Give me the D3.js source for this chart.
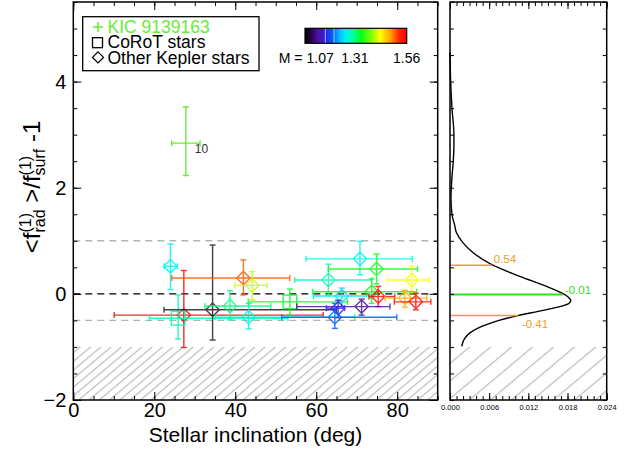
<!DOCTYPE html>
<html>
<head>
<meta charset="utf-8">
<script src="https://cdn.jsdelivr.net/npm/d3@7"></script>
<style>
body { margin: 0; background: #fff; }
svg { font-family: "Liberation Sans", Arial, Helvetica, sans-serif; }
</style>
</head>
<body>
<svg id="chart" width="629" height="460"></svg>
<script>
// stars (Kepler diamonds, CoRoT squares)
const star_incl     = [24.0, 27.3, 25.9, 34.4, 38.7, 42.0, 44.2, 43.3, 53.5, 63.0, 70.8, 74.9, 83.6, 66.3, 73.7, 75.3, 81.9, 84.6, 71.2, 65.4, 64.6];
const star_incl_lo  = [22.4, 10.1, 18.8, 22.4, 32.5, 24.3, 39.9, 35.0, 43.2, 54.7, 57.5, 63.0, 77.6, 59.3, 59.1, 73.0, 77.0, 79.3, 55.2, 62.5, 51.5];
const star_incl_hi  = [25.7, 61.7, 53.0, 65.0, 48.8, 53.5, 47.9, 69.5, 67.7, 73.7, 83.7, 85.0, 87.9, 73.3, 84.8, 79.4, 87.3, 88.3, 78.2, 67.0, 79.9];
const star_ratio    = [0.52, -0.40, -0.46, -0.30, -0.23, 0.30, 0.16, -0.44, -0.15, 0.26, 0.66, 0.47, 0.26, -0.04, 0.04, -0.05, -0.08, -0.15, -0.24, -0.27, -0.44];
const star_ratio_lo = [0.08, -1.01, -0.85, -0.87, -0.49, -0.02, -0.11, -0.66, -0.40, -0.02, 0.36, 0.19, 0.02, -0.24, -0.18, -0.24, -0.25, -0.30, -0.40, -0.45, -0.65];
const star_ratio_hi = [0.94, 0.44, -0.02, 0.92, 0.06, 0.64, 0.42, -0.18, 0.09, 0.56, 0.99, 0.75, 0.52, 0.11, 0.28, 0.14, 0.07, 0.01, -0.10, -0.12, -0.18];
const star_mass     = [1.266, 1.56, 1.29, 1.07, 1.31, 1.506, 1.413, 1.276, 1.34, 1.29, 1.27, 1.344, 1.433, 1.256, 1.345, 1.545, 1.472, 1.55, 1.134, 1.163, 1.202];
const star_kind     = ['kepler', 'kepler', 'corot', 'kepler', 'kepler', 'kepler', 'kepler', 'kepler', 'corot', 'kepler', 'kepler',
                       'kepler', 'kepler', 'kepler', 'kepler', 'kepler', 'kepler', 'kepler', 'kepler', 'kepler', 'kepler'];

// KIC 9139163
const kic_incl = [27.8], kic_incl_lo = [24.3], kic_incl_hi = [31.3];
const kic_ratio = [2.84], kic_ratio_lo = [2.23], kic_ratio_hi = [3.52];
const kic_label = ['10'];

// probability density of the ratio (right panel)
const pdf_ratio = [4.55, 4.0, 3.5, 3.0, 2.8, 2.5, 2.2, 1.8, 1.5, 1.3, 1.15, 0.96, 0.77, 0.55, 0.33, 0.14, 0.0, -0.05, -0.12, -0.18, -0.25, -0.33, -0.41, -0.50, -0.58, -0.65, -0.74, -0.85, -0.99];
const pdf_dens  = [0.0, 0.0001, 0.0003, 0.0006, 0.0006, 0.0005, 0.0003, 0.00015, 0.0003, 0.0007, 0.0010, 0.0020, 0.0036, 0.0064, 0.0107, 0.0148, 0.0174, 0.0180, 0.0185, 0.0182, 0.0165, 0.0135, 0.0104, 0.0075, 0.0056, 0.0042, 0.0030, 0.0022, 0.0018];
const level_ratio = [0.54, -0.01, -0.41];
const level_dens  = [0.0064, 0.0173, 0.0104];
const level_text  = ['0.54', '-0.01', '-0.41'];

// mass colour bar
const mass_min = 1.07, mass_max = 1.56;
const cbar_ticks = [1.07, 1.31, 1.56];
const cbar_marks = [1.168, 1.21];
const cmap_pos = [0, 0.05, 0.12, 0.2, 0.27, 0.35, 0.4, 0.47, 0.55, 0.65, 0.74, 0.84, 0.93, 1.0];
const cmap_col = ['#000000', '#200040', '#50109a', '#3020e0', '#0060ff', '#00c8ff', '#00f0f0', '#00ffa0', '#00ff20', '#80ff00', '#ffff00', '#ffa000', '#ff2000', '#ff0000'];

const x_ticks = [0, 20, 40, 60, 80];
const y_ticks = [-2, 0, 2, 4];
const dens_ticks = [0, 0.006, 0.012, 0.018, 0.024];

const svg = d3.select('#chart');
const defs = svg.append('defs');

const main = { left: 73.3, right: 437.7, top: 2, bottom: 400 };
const side = { left: 450, right: 606.7, top: 2, bottom: 400 };

const x = d3.scaleLinear().domain([0, 90]).range([main.left, main.right]);
const y = d3.scaleLinear().domain([-2, 5.5]).range([main.bottom, main.top]);
const xd = d3.scaleLinear().domain([0, 0.024]).range([side.left, side.right]);
const mass_color = d3.scaleLinear()
    .domain(cmap_pos.map(t => mass_min + t * (mass_max - mass_min)))
    .range(cmap_col)
    .clamp(true);

// hatch patterns
function make_hatch(id, gap) {
    let p = defs.append('pattern')
        .attr('id', id)
        .attr('patternUnits', 'userSpaceOnUse')
        .attr('width', gap)
        .attr('height', 40)
        .attr('patternTransform', 'rotate(50)');
    p.append('line')
        .attr('x1', 0.6).attr('x2', 0.6)
        .attr('y1', 0).attr('y2', 40)
        .attr('stroke', '#bbbbbb')
        .attr('stroke-width', 1.2);
}
make_hatch('hatch_main', 6.6);
make_hatch('hatch_side', 13.5);

defs.append('clipPath').attr('id', 'clip_main')
    .append('rect')
    .attr('x', main.left).attr('y', main.top)
    .attr('width', main.right - main.left).attr('height', main.bottom - main.top);

// ---------------- main panel ----------------
svg.append('rect')
    .attr('x', main.left)
    .attr('y', y(-1))
    .attr('width', main.right - main.left)
    .attr('height', y(-2) - y(-1))
    .attr('fill', 'url(#hatch_main)');

const plot = svg.append('g').attr('clip-path', 'url(#clip_main)');

[1, -0.5].forEach(v => {
    plot.append('line')
        .attr('x1', main.left).attr('x2', main.right)
        .attr('y1', y(v)).attr('y2', y(v))
        .attr('stroke', '#b4b4b4')
        .attr('stroke-width', 1.4)
        .attr('stroke-dasharray', '7,5');
});
plot.append('line')
    .attr('x1', main.left).attr('x2', main.right)
    .attr('y1', y(0)).attr('y2', y(0))
    .attr('stroke', 'black')
    .attr('stroke-width', 1.4)
    .attr('stroke-dasharray', '7,5');

function draw_point(g, xi, xlo, xhi, yi, ylo, yhi, color, kind) {
    let cap = 3;
    let px = x(xi), py = y(yi);
    let segs = [
        [x(xlo), py, x(xhi), py],
        [x(xlo), py - cap, x(xlo), py + cap],
        [x(xhi), py - cap, x(xhi), py + cap],
        [px, y(ylo), px, y(yhi)],
        [px - cap, y(ylo), px + cap, y(ylo)],
        [px - cap, y(yhi), px + cap, y(yhi)]
    ];
    segs.forEach(s => {
        g.append('line')
            .attr('x1', s[0]).attr('y1', s[1])
            .attr('x2', s[2]).attr('y2', s[3])
            .attr('stroke', color)
            .attr('stroke-width', 1.4);
    });
    if (kind == 'kepler') {
        let r = 6.7;
        g.append('path')
            .attr('d', `M${px},${py - r}L${px + r},${py}L${px},${py + r}L${px - r},${py}Z`)
            .attr('fill', 'none')
            .attr('stroke', color)
            .attr('stroke-width', 1.4);
    } else if (kind == 'corot') {
        let r = 6.8;
        g.append('rect')
            .attr('x', px - r).attr('y', py - r)
            .attr('width', 2 * r).attr('height', 2 * r)
            .attr('fill', 'none')
            .attr('stroke', color)
            .attr('stroke-width', 1.4);
    }
}

star_incl.forEach((d, i) => {
    let color = star_mass[i] <= mass_min ? '#222222' : mass_color(star_mass[i]);
    let g = plot.append('g').attr('opacity', 0.85);
    draw_point(g, star_incl[i], star_incl_lo[i], star_incl_hi[i],
        star_ratio[i], star_ratio_lo[i], star_ratio_hi[i], color, star_kind[i]);
});

const kic_color = '#66ee33';
kic_incl.forEach((d, i) => {
    let g = plot.append('g');
    draw_point(g, kic_incl[i], kic_incl_lo[i], kic_incl_hi[i],
        kic_ratio[i], kic_ratio_lo[i], kic_ratio_hi[i], kic_color, 'kic');
    g.append('text')
        .attr('x', x(kic_incl[i]) + 9)
        .attr('y', y(kic_ratio[i]) + 10)
        .attr('font-size', 12)
        .attr('fill', '#333')
        .text(kic_label[i]);
});

// axes (ticks pointing inward)
svg.append('g')
    .attr('transform', `translate(0,${main.bottom})`)
    .call(d3.axisBottom(x).tickValues(x_ticks).tickSize(-8).tickPadding(3).tickFormat(d3.format('d')))
    .call(g => g.selectAll('text').attr('font-size', 20).attr('font-family', null))
    .call(g => g.select('.domain').remove());
svg.append('g')
    .attr('transform', `translate(0,${main.bottom})`)
    .call(d3.axisBottom(x).tickValues(d3.range(0, 91, 5)).tickSize(-4).tickFormat(''))
    .call(g => g.select('.domain').remove());
svg.append('g')
    .attr('transform', `translate(0,${main.top})`)
    .call(d3.axisTop(x).tickValues(x_ticks).tickSize(-8).tickFormat(''))
    .call(g => g.select('.domain').remove());
svg.append('g')
    .attr('transform', `translate(0,${main.top})`)
    .call(d3.axisTop(x).tickValues(d3.range(0, 91, 5)).tickSize(-4).tickFormat(''))
    .call(g => g.select('.domain').remove());
svg.append('g')
    .attr('transform', `translate(${main.left},0)`)
    .call(d3.axisLeft(y).tickValues(y_ticks).tickSize(-8).tickPadding(7).tickFormat(d3.format('d')))
    .call(g => g.selectAll('text').attr('font-size', 20).attr('font-family', null))
    .call(g => g.select('.domain').remove());
svg.append('g')
    .attr('transform', `translate(${main.left},0)`)
    .call(d3.axisLeft(y).tickValues(d3.range(-2, 5.51, 0.5)).tickSize(-4).tickFormat(''))
    .call(g => g.select('.domain').remove());
svg.append('g')
    .attr('transform', `translate(${main.right},0)`)
    .call(d3.axisRight(y).tickValues(y_ticks).tickSize(-8).tickFormat(''))
    .call(g => g.select('.domain').remove());
svg.append('g')
    .attr('transform', `translate(${main.right},0)`)
    .call(d3.axisRight(y).tickValues(d3.range(-2, 5.51, 0.5)).tickSize(-4).tickFormat(''))
    .call(g => g.select('.domain').remove());

svg.append('rect')
    .attr('x', main.left).attr('y', main.top)
    .attr('width', main.right - main.left).attr('height', main.bottom - main.top)
    .attr('fill', 'none')
    .attr('stroke', 'black')
    .attr('stroke-width', 1.5);

svg.append('text')
    .attr('x', (main.left + main.right) / 2)
    .attr('y', 441.5)
    .attr('text-anchor', 'middle')
    .attr('font-size', 21)
    .text('Stellar inclination (deg)');

// y label with stacked super/subscripts, laid out by hand
function text_width(str, size) {
    let t = svg.append('text').attr('font-size', size).text(str);
    let w = t.node().getComputedTextLength();
    t.remove();
    return w;
}
const big = 24, small = 16;
const ylab_parts = [
    { txt: '<f', sup: '(1)', sub: 'rad' },
    { txt: '\u00a0>/f', sup: '(1)', sub: 'surf' },
    { txt: '\u00a0-1' }
];
let ylab = svg.append('g');
let ylab_text = ylab.append('text');
let cursor = 0;
ylab_parts.forEach(p => {
    ylab_text.append('tspan')
        .attr('x', cursor).attr('y', 0)
        .attr('font-size', big)
        .text(p.txt);
    cursor += text_width(p.txt, big);
    if (p.sup) {
        ylab_text.append('tspan')
            .attr('x', cursor).attr('y', -9)
            .attr('font-size', small)
            .text(p.sup);
        ylab_text.append('tspan')
            .attr('x', cursor).attr('y', 5)
            .attr('font-size', small)
            .text(p.sub);
        cursor += Math.max(text_width(p.sup, small), text_width(p.sub, small));
    }
});
ylab.attr('transform', `translate(40,${187 + cursor / 2}) rotate(-90)`);

// legend
const legend = svg.append('g');
legend.append('rect')
    .attr('x', 82.7).attr('y', 16.7)
    .attr('width', 176.3).attr('height', 54)
    .attr('fill', 'white')
    .attr('stroke', 'black')
    .attr('stroke-width', 1.3);
const legend_text = ['KIC 9139163', 'CoRoT stars', 'Other Kepler stars'];
const legend_color = [kic_color, 'black', 'black'];
legend_text.forEach((t, i) => {
    let cy = 27 + i * 15.2;
    legend.append('text')
        .attr('x', 107.5)
        .attr('y', cy + 6.2)
        .attr('font-size', 17.5)
        .attr('fill', legend_color[i])
        .text(t);
    if (i == 0) {
        legend.append('path')
            .attr('d', `M93,${cy}H103M98,${cy - 5}V${cy + 5}`)
            .attr('stroke', kic_color).attr('stroke-width', 1.6);
    } else if (i == 1) {
        legend.append('rect')
            .attr('x', 92.5).attr('y', cy - 4.5)
            .attr('width', 10).attr('height', 10)
            .attr('fill', 'none').attr('stroke', 'black').attr('stroke-width', 1.3);
    } else {
        legend.append('path')
            .attr('d', `M98,${cy - 5.5}L103.5,${cy}L98,${cy + 5.5}L92.5,${cy}Z`)
            .attr('fill', 'none').attr('stroke', 'black').attr('stroke-width', 1.3);
    }
});

// colour bar
const cb = { left: 305, right: 406.7, top: 28.3, bottom: 43.3 };
const cbx = d3.scaleLinear().domain([mass_min, mass_max]).range([cb.left, cb.right]);
const grad = defs.append('linearGradient').attr('id', 'cbar_grad');
cmap_pos.forEach((t, i) => {
    grad.append('stop').attr('offset', t).attr('stop-color', cmap_col[i]);
});
svg.append('rect')
    .attr('x', cb.left).attr('y', cb.top)
    .attr('width', cb.right - cb.left).attr('height', cb.bottom - cb.top)
    .attr('fill', 'url(#cbar_grad)');
cbar_marks.forEach(m => {
    svg.append('line')
        .attr('x1', cbx(m)).attr('x2', cbx(m))
        .attr('y1', cb.top).attr('y2', cb.bottom)
        .attr('stroke', '#ccddff').attr('stroke-width', 0.8);
});
svg.append('rect')
    .attr('x', cb.left).attr('y', cb.top)
    .attr('width', cb.right - cb.left).attr('height', cb.bottom - cb.top)
    .attr('fill', 'none').attr('stroke', 'black').attr('stroke-width', 1.2);
cbar_ticks.forEach((m, i) => {
    let t = svg.append('text')
        .attr('y', 63)
        .attr('font-size', 14)
        .text(d3.format('.2f')(m));
    if (i == 0) {
        t.attr('x', cbx(m) + 1.5).attr('text-anchor', 'start');
        svg.append('text')
            .attr('x', cbx(m) - 2.5).attr('y', 63)
            .attr('font-size', 14)
            .attr('text-anchor', 'end')
            .text('M =');
    } else {
        t.attr('x', cbx(m)).attr('text-anchor', 'middle');
    }
});

// ---------------- side panel ----------------
svg.append('rect')
    .attr('x', side.left)
    .attr('y', y(-1))
    .attr('width', side.right - side.left)
    .attr('height', y(-2) - y(-1))
    .attr('fill', 'url(#hatch_side)');

const pdf_line = d3.line()
    .x((d, i) => xd(pdf_dens[i]))
    .y(d => y(d))
    .curve(d3.curveMonotoneY);
svg.append('path')
    .attr('d', pdf_line(pdf_ratio))
    .attr('fill', 'none')
    .attr('stroke', 'black')
    .attr('stroke-width', 1.4);

const level_color = ['#f0a020', '#33dd22', '#f0a020'];
const level_dx = [2, 2, 4];
const level_dy = [-2, 0, 12];
level_ratio.forEach((v, i) => {
    svg.append('line')
        .attr('x1', side.left).attr('x2', xd(level_dens[i]))
        .attr('y1', y(v)).attr('y2', y(v))
        .attr('stroke', level_color[i])
        .attr('stroke-width', i == 1 ? 2 : 1.5);
    svg.append('text')
        .attr('x', xd(level_dens[i]) + level_dx[i])
        .attr('y', y(v) + level_dy[i])
        .attr('font-size', 11.5)
        .attr('fill', level_color[i])
        .text(level_text[i]);
});

svg.append('g')
    .attr('transform', `translate(0,${side.bottom})`)
    .call(d3.axisBottom(xd).tickValues(dens_ticks).tickSize(-7).tickPadding(5).tickFormat(d3.format('.3f')))
    .call(g => g.selectAll('text').attr('font-size', 7.5).attr('font-family', null))
    .call(g => g.select('.domain').remove());
svg.append('g')
    .attr('transform', `translate(0,${side.bottom})`)
    .call(d3.axisBottom(xd).tickValues(d3.range(0, 0.02401, 0.001)).tickSize(-4).tickFormat(''))
    .call(g => g.select('.domain').remove());
svg.append('g')
    .attr('transform', `translate(0,${side.top})`)
    .call(d3.axisTop(xd).tickValues(dens_ticks).tickSize(-7).tickFormat(''))
    .call(g => g.select('.domain').remove());
svg.append('g')
    .attr('transform', `translate(0,${side.top})`)
    .call(d3.axisTop(xd).tickValues(d3.range(0, 0.02401, 0.001)).tickSize(-4).tickFormat(''))
    .call(g => g.select('.domain').remove());
svg.append('g')
    .attr('transform', `translate(${side.left},0)`)
    .call(d3.axisLeft(y).tickValues(d3.range(-2, 5.51, 0.5)).tickSize(-4).tickFormat(''))
    .call(g => g.select('.domain').remove());
svg.append('g')
    .attr('transform', `translate(${side.right},0)`)
    .call(d3.axisRight(y).tickValues(d3.range(-2, 5.51, 0.5)).tickSize(-4).tickFormat(''))
    .call(g => g.select('.domain').remove());

svg.append('rect')
    .attr('x', side.left).attr('y', side.top)
    .attr('width', side.right - side.left).attr('height', side.bottom - side.top)
    .attr('fill', 'none')
    .attr('stroke', 'black')
    .attr('stroke-width', 1.5);
</script>
</body>
</html>
